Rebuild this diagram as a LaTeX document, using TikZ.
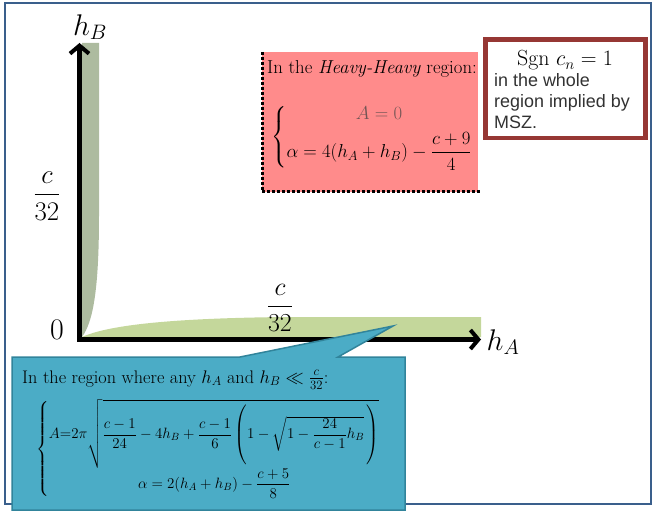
\documentclass[tikz,border=0pt]{standalone}
\usepackage{fix-cm}
\usepackage{amsmath}
\usepackage{fontspec}
\newfontfamily\arialf{Liberation Sans}
\usetikzlibrary{arrows.meta}
\definecolor{framec}{RGB}{58,95,140}
\definecolor{pinkc}{RGB}{255,139,139}
\definecolor{redc}{RGB}{150,55,52}
\definecolor{vbandc}{RGB}{173,187,159}
\definecolor{hbandc}{RGB}{196,215,155}
\definecolor{callfill}{RGB}{75,172,198}
\definecolor{calldraw}{RGB}{49,132,155}
\definecolor{grayA}{RGB}{115,85,85}
\definecolor{arialtext}{RGB}{50,50,50}
\tikzset{
  lbl/.style={inner sep=0pt},
  axisline/.style={line width=5bp, line join=miter,
    {Straight Barb[length=8bp,width=19bp,line width=4bp]}-{Straight Barb[length=8bp,width=19bp,line width=4bp]}},
  dotb/.style={line width=3bp, dash pattern=on 3bp off 2bp},
}
\begin{document}
\begin{tikzpicture}[x=1bp,y=-1bp]
\useasboundingbox (0,0) rectangle (654,511);
% outer frame
\draw[framec, line width=2.2bp] (5,3) rectangle (651,504);
% bands
\fill[vbandc] (82,43) -- (99,43) -- (99,215) .. controls (99,290) and (93,322) .. (82,337) -- cycle;
\fill[hbandc] (82,337) .. controls (115,322) and (200,318) .. (285,317) -- (481,317) -- (481,337) -- cycle;
% axes
\coordinate (Btop) at (79.5,43);
\coordinate (O) at (79.5,339.5);
\coordinate (Aend) at (481,339.5);
\draw[axisline] (Btop) -- (O) -- (Aend);
\node[lbl, font=\fontsize{30}{32}\selectfont] (hB) at (90,27) {$h_B$};
\node[lbl, font=\fontsize{30}{32}\selectfont] (hA) at (503,342) {$h_A$};
\node[lbl, font=\fontsize{30}{32}\selectfont] (zero) at (57,330) {$0$};
\node[lbl, font=\fontsize{27}{30}\selectfont] (c32v) at (47,196) {$\dfrac{c}{32}$};
\node[lbl, font=\fontsize{26}{30}\selectfont] (c32h) at (280,308) {$\dfrac{c}{32}$};
% pink box
\fill[pinkc] (262,52) rectangle (478,192);
\draw[dotb] (262,52) -- (262,192) -- (480,192);
\node[lbl, anchor=base west, font=\fontsize{18.8}{22}\selectfont] (pinkhead) at (267,74) {In the \textit{Heavy-Heavy} region:};
\node[lbl, anchor=west, font=\fontsize{18.8}{22}\selectfont] (pinkeq) at (271,137)
  {$\left\{\begin{array}{@{}c@{}} \color{grayA}A=0\\[7bp] \alpha=4(h_A+h_B)-\dfrac{c+9}{4}\end{array}\right.$};
% red box
\draw[redc, line width=4.5bp, fill=white] (485.5,39.5) rectangle (645.5,138);
\node[lbl, anchor=base, font=\fontsize{22}{24}\selectfont] (sgn) at (565,66) {$\mathrm{Sgn}\ c_n=1$};
\node[lbl, anchor=north west, align=left, text=arialtext, font=\arialf\fontsize{18}{21.2}\selectfont] (msz) at (494,73) {in the whole\\region implied by\\MSZ.};
% callout
\draw[calldraw, fill=callfill, line width=1.5bp, line join=miter]
  (12,357) -- (240,357) -- (393,326) -- (338,357) -- (405,357) -- (405,510) -- (12,510) -- cycle;
\node[lbl, anchor=base west, font=\fontsize{18.3}{20}\selectfont] (callhead) at (22,383)
  {In the region where any $h_A$ and $h_B\ll\frac{c}{32}$:};
\node[lbl, anchor=west, font=\fontsize{15}{18}\selectfont] (calleq) at (36,449)
  {$\left\{\begin{array}{@{}c@{}} A{=}2\pi\sqrt{\dfrac{c-1}{24}-4h_B+\dfrac{c-1}{6}\left(\rule[-15bp]{0pt}{48bp}1-\sqrt{1-\dfrac{24}{c-1}h_B}\,\right)}\\[22bp] \alpha=2(h_A+h_B)-\dfrac{c+5}{8}\end{array}\right.$};
\end{tikzpicture}
\end{document}
